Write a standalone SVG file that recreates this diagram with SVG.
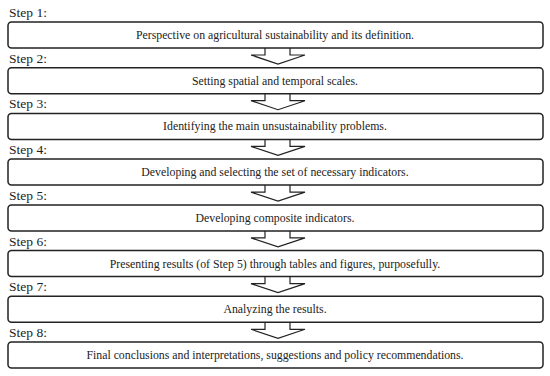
<svg xmlns="http://www.w3.org/2000/svg" width="550" height="376" viewBox="0 0 550 376">
<defs>
<style>
.box{fill:#fff;stroke:#222;stroke-width:1.5}
.arr{fill:#fff;stroke:#222;stroke-width:1.2;stroke-linejoin:miter}
text{font-family:'Liberation Serif','Times New Roman',Times,serif;fill:#222}
.lbl{font-size:13.5px}
.txt{font-size:11.8px;text-anchor:middle}
</style>
<polyline id="arrow" class="arr" points="-13,0 -13,7 -27,7 0,16 27,7 12,7 12,0"/>
</defs>
<rect width="550" height="376" fill="#fff"/>
<g id="connectors">
<use href="#arrow" x="278" y="48"/>
<use href="#arrow" x="278" y="93.7"/>
<use href="#arrow" x="278" y="139.4"/>
<use href="#arrow" x="278" y="185.1"/>
<use href="#arrow" x="278" y="230.9"/>
<use href="#arrow" x="278" y="276.6"/>
<use href="#arrow" x="278" y="322.3"/>
</g>
<g id="step1"><text class="lbl" x="9" y="17">Step 1:</text><rect class="box" x="8" y="22" width="535" height="26" rx="3.5"/><text class="txt" x="275" y="39">Perspective on agricultural sustainability and its definition.</text></g>
<g id="step2"><text class="lbl" x="9" y="62.7">Step 2:</text><rect class="box" x="8" y="67.7" width="535" height="26" rx="3.5"/><text class="txt" x="275" y="84.7">Setting spatial and temporal scales.</text></g>
<g id="step3"><text class="lbl" x="9" y="108.4">Step 3:</text><rect class="box" x="8" y="113.4" width="535" height="26" rx="3.5"/><text class="txt" x="275" y="130.4">Identifying the main unsustainability problems.</text></g>
<g id="step4"><text class="lbl" x="9" y="154.1">Step 4:</text><rect class="box" x="8" y="159.1" width="535" height="26" rx="3.5"/><text class="txt" x="275" y="176.1">Developing and selecting the set of necessary indicators.</text></g>
<g id="step5"><text class="lbl" x="9" y="199.9">Step 5:</text><rect class="box" x="8" y="204.9" width="535" height="26" rx="3.5"/><text class="txt" x="275" y="221.9">Developing composite indicators.</text></g>
<g id="step6"><text class="lbl" x="9" y="245.6">Step 6:</text><rect class="box" x="8" y="250.6" width="535" height="26" rx="3.5"/><text class="txt" x="275" y="267.6">Presenting results (of Step 5) through tables and figures, purposefully.</text></g>
<g id="step7"><text class="lbl" x="9" y="291.3">Step 7:</text><rect class="box" x="8" y="296.3" width="535" height="26" rx="3.5"/><text class="txt" x="275" y="313.3">Analyzing the results.</text></g>
<g id="step8"><text class="lbl" x="9" y="337">Step 8:</text><rect class="box" x="8" y="342" width="535" height="26" rx="3.5"/><text class="txt" x="275" y="359">Final conclusions and interpretations, suggestions and policy recommendations.</text></g>
</svg>
